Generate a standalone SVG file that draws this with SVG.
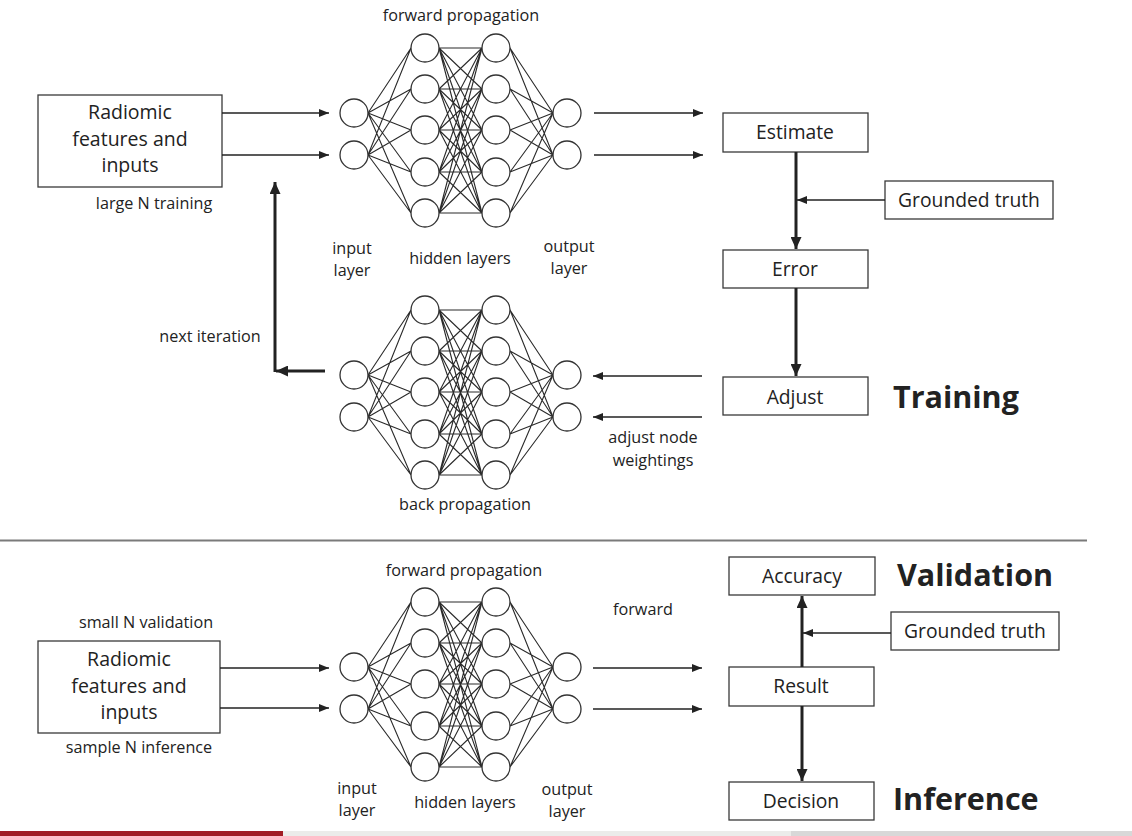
<svg xmlns="http://www.w3.org/2000/svg" xmlns:xlink="http://www.w3.org/1999/xlink" width="1132" height="836" viewBox="0 0 1132 836">
<style>
text{font-family:"Open Sans","Noto Sans","Liberation Sans",sans-serif;fill:#222}
.lab{font-size:16.2px;text-anchor:middle}
.box{fill:#fff;stroke:#3a3a3a;stroke-width:1.3}
.bt{font-size:19.3px;text-anchor:middle}
.rt{font-size:19.5px;text-anchor:middle}
.big{font-size:30.5px;font-weight:bold}
.thin{stroke:#222;stroke-width:1.5;fill:none}
.thick{stroke:#222;stroke-width:3;fill:none}
.nn line,.nn path{stroke:#2a2a2a;stroke-width:1.1;fill:none}
.nn circle{fill:#fff;stroke:#333;stroke-width:1.3}
</style>
<defs>
<marker id="a" markerUnits="userSpaceOnUse" markerWidth="11" markerHeight="9" refX="10" refY="4.5" orient="auto"><path d="M0,0.5 L10,4.5 L0,8.5 z" fill="#222"/></marker>
<marker id="b" markerUnits="userSpaceOnUse" markerWidth="13" markerHeight="11" refX="12" refY="5.5" orient="auto"><path d="M0,0 L12,5.5 L0,11 z" fill="#222"/></marker>
<g id="net" class="nn">
<path d="M368 113L411 48M368 113L411 89M368 113L411 130M368 113L411 172M368 113L411 213M368 155L411 48M368 155L411 89M368 155L411 130M368 155L411 172M368 155L411 213
M439 48L482 48M439 48L482 89M439 48L482 130M439 48L482 172M439 48L482 213
M439 89L482 48M439 89L482 89M439 89L482 130M439 89L482 172M439 89L482 213
M439 130L482 48M439 130L482 89M439 130L482 130M439 130L482 172M439 130L482 213
M439 172L482 48M439 172L482 89M439 172L482 130M439 172L482 172M439 172L482 213
M439 213L482 48M439 213L482 89M439 213L482 130M439 213L482 172M439 213L482 213
M510 48L553 113M510 89L553 113M510 130L553 113M510 172L553 113M510 213L553 113
M510 48L553 155M510 89L553 155M510 130L553 155M510 172L553 155M510 213L553 155"/>
<circle cx="354" cy="113" r="14"/><circle cx="354" cy="155" r="14"/>
<circle cx="425" cy="48" r="14"/><circle cx="425" cy="89" r="14"/><circle cx="425" cy="130" r="14"/><circle cx="425" cy="172" r="14"/><circle cx="425" cy="213" r="14"/>
<circle cx="496" cy="48" r="14"/><circle cx="496" cy="89" r="14"/><circle cx="496" cy="130" r="14"/><circle cx="496" cy="172" r="14"/><circle cx="496" cy="213" r="14"/>
<circle cx="567" cy="113" r="14"/><circle cx="567" cy="155" r="14"/>
</g>
</defs>
<rect width="1132" height="836" fill="#fff"/>

<g id="net-forward-train"><use xlink:href="#net"/></g>
<g id="net-back"><use xlink:href="#net" y="262"/></g>
<g id="net-forward-val"><use xlink:href="#net" y="554"/></g>

<g id="input-train">
<rect class="box" x="38" y="95" width="184" height="92"/>
<text class="rt" x="130" y="119">Radiomic</text>
<text class="rt" x="130" y="146">features and</text>
<text class="rt" x="130" y="172">inputs</text>
</g>
<g id="estimate"><rect class="box" x="723" y="113" width="145" height="39"/><text class="bt" x="795" y="139">Estimate</text></g>
<g id="truth1"><rect class="box" x="885" y="181" width="168" height="38"/><text class="bt" x="969" y="207">Grounded truth</text></g>
<g id="error"><rect class="box" x="723" y="250" width="145" height="38"/><text class="bt" x="795" y="276">Error</text></g>
<g id="adjust"><rect class="box" x="723" y="377" width="145" height="38"/><text class="bt" x="795" y="404">Adjust</text></g>

<g id="input-val">
<rect class="box" x="38" y="641" width="182" height="92"/>
<text class="rt" x="129" y="666">Radiomic</text>
<text class="rt" x="129" y="693">features and</text>
<text class="rt" x="129" y="719">inputs</text>
</g>
<g id="accuracy"><rect class="box" x="729" y="557" width="146" height="38"/><text class="bt" x="802" y="583">Accuracy</text></g>
<g id="truth2"><rect class="box" x="891" y="612" width="168" height="38"/><text class="bt" x="975" y="638">Grounded truth</text></g>
<g id="result"><rect class="box" x="729" y="667" width="145" height="39"/><text class="bt" x="801" y="693">Result</text></g>
<g id="decision"><rect class="box" x="729" y="782" width="145" height="38"/><text class="bt" x="801" y="808">Decision</text></g>

<g id="connectors">
<line class="thin" x1="222" y1="113" x2="329" y2="113" marker-end="url(#a)"/>
<line class="thin" x1="222" y1="155" x2="329" y2="155" marker-end="url(#a)"/>
<line class="thin" x1="594" y1="113" x2="703" y2="113" marker-end="url(#a)"/>
<line class="thin" x1="594" y1="155" x2="703" y2="155" marker-end="url(#a)"/>
<line class="thick" x1="796" y1="152" x2="796" y2="249" marker-end="url(#b)"/>
<line class="thin" x1="885" y1="200" x2="797" y2="200" marker-end="url(#a)"/>
<line class="thick" x1="796" y1="288" x2="796" y2="376" marker-end="url(#b)"/>
<line class="thin" x1="702" y1="376" x2="593" y2="376" marker-end="url(#a)"/>
<line class="thin" x1="702" y1="417" x2="593" y2="417" marker-end="url(#a)"/>
<line class="thick" x1="325" y1="371" x2="276" y2="371" marker-end="url(#b)"/>
<line class="thick" x1="275" y1="372" x2="275" y2="182" marker-end="url(#b)"/>
<line class="thin" x1="220" y1="668" x2="329" y2="668" marker-end="url(#a)"/>
<line class="thin" x1="220" y1="708" x2="329" y2="708" marker-end="url(#a)"/>
<line class="thin" x1="593" y1="668" x2="702" y2="668" marker-end="url(#a)"/>
<line class="thin" x1="593" y1="709" x2="702" y2="709" marker-end="url(#a)"/>
<line class="thick" x1="802" y1="667" x2="802" y2="596" marker-end="url(#b)"/>
<line class="thin" x1="891" y1="633" x2="803" y2="633" marker-end="url(#a)"/>
<line class="thick" x1="802" y1="706" x2="802" y2="781" marker-end="url(#b)"/>
</g>

<g id="labels">
<text class="lab" x="461" y="21">forward propagation</text>
<text class="lab" x="154" y="209">large N training</text>
<text class="lab" x="352" y="254">input</text>
<text class="lab" x="352" y="276">layer</text>
<text class="lab" x="460" y="264">hidden layers</text>
<text class="lab" x="569" y="252">output</text>
<text class="lab" x="569" y="274">layer</text>
<text class="lab" x="210" y="342">next iteration</text>
<text class="lab" x="653" y="443">adjust node</text>
<text class="lab" x="653" y="466">weightings</text>
<text class="lab" x="465" y="510">back propagation</text>
<text class="big" x="893" y="408">Training</text>

<text class="lab" x="464" y="576">forward propagation</text>
<text class="lab" x="643" y="615">forward</text>
<text class="lab" x="146" y="628">small N validation</text>
<text class="lab" x="139" y="753">sample N inference</text>
<text class="lab" x="357" y="794">input</text>
<text class="lab" x="357" y="816">layer</text>
<text class="lab" x="465" y="808">hidden layers</text>
<text class="lab" x="567" y="795">output</text>
<text class="lab" x="567" y="817">layer</text>
<text class="big" x="897" y="586">Validation</text>
<text class="big" x="893" y="810">Inference</text>
</g>

<line x1="0" y1="540.5" x2="1087" y2="540.5" stroke="#7a7a7a" stroke-width="2"/>
<rect x="0" y="831" width="283" height="5" fill="#a11d25"/>
<rect x="283" y="831" width="508" height="5" fill="#ebecea"/>
<rect x="791" y="831" width="341" height="5" fill="#d8d8d8"/>
</svg>
